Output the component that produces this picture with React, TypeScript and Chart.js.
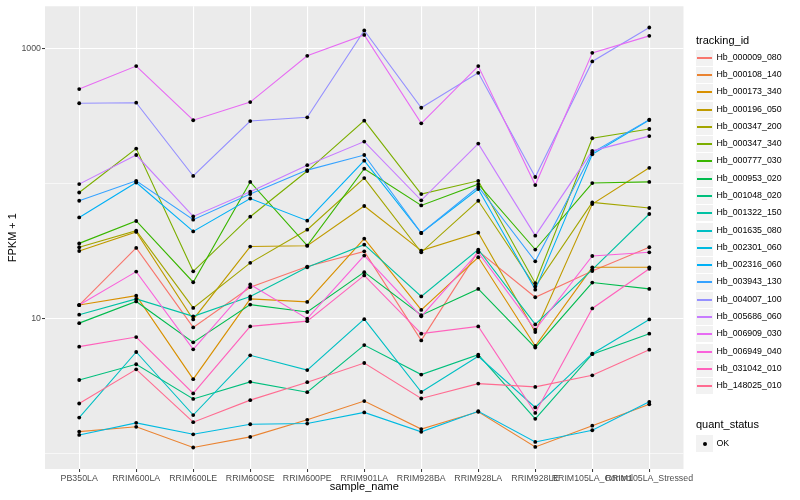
import React, { useEffect, useRef } from "react";
import { Chart, registerables } from "chart.js";

Chart.register(...registerables);

const FONT = '"Liberation Sans", Arial, Helvetica, sans-serif';

const categories = [
  "PB350LA", "RRIM600LA", "RRIM600LE", "RRIM600SE", "RRIM600PE", "RRIM901LA",
  "RRIM928BA", "RRIM928LA", "RRIM928LE", "RRIM105LA_Control", "RRIM105LA_Stressed",
];

const trackingIds = [
  "Hb_000009_080", "Hb_000108_140", "Hb_000173_340", "Hb_000196_050", "Hb_000347_200",
  "Hb_000347_340", "Hb_000777_030", "Hb_000953_020", "Hb_001048_020", "Hb_001322_150",
  "Hb_001635_080", "Hb_002301_060", "Hb_002316_060", "Hb_003943_130", "Hb_004007_100",
  "Hb_005686_060", "Hb_006909_030", "Hb_006949_040", "Hb_031042_010", "Hb_148025_010",
];

const seriesColors = [
  "#F8766D", "#EA8331", "#D89000", "#C09B00", "#A3A500", "#7CAE00", "#39B600",
  "#00BB4E", "#00BF7D", "#00C1A3", "#00BFC4", "#00BAE0", "#00B0F6", "#35A2FF",
  "#9590FF", "#C77CFF", "#E76BF3", "#FA62DB", "#FF62BC", "#FF6C91",
];

// FPKM + 1 per sample (same order as categories)
const Hb_000009_080 = [12.6, 33.4, 8.61, 17.1, 24.3, 31.5, 6.9, 31.6, 14.4, 22.5, 33.8];
const Hb_000108_140 = [1.455, 1.58, 1.11, 1.33, 1.78, 2.45, 1.52, 2.04, 1.12, 1.61, 2.32];
const Hb_000173_340 = [12.6, 14.8, 3.56, 14.0, 13.3, 39.1, 11.6, 28.5, 6.27, 24.0, 24.0];
const Hb_000196_050 = [31.7, 43.9, 9.86, 34.2, 34.7, 68.3, 31.9, 43.3, 7.95, 70.6, 131];
const Hb_000347_200 = [33.8, 44.8, 12.0, 25.9, 45.6, 110, 31.0, 74.7, 17.3, 72.6, 66.0];
const Hb_000347_340 = [86.0, 182, 22.4, 56.9, 124, 293, 83.7, 105, 18.3, 217, 254];
const Hb_000777_030 = [36.1, 52.9, 18.6, 103, 34.7, 129, 69.0, 99.2, 32.5, 101, 103];
const Hb_000953_020 = [9.26, 13.4, 6.67, 12.7, 11.2, 22.1, 10.6, 16.6, 6.1, 18.5, 16.6];
const Hb_001048_020 = [3.51, 4.59, 2.54, 3.4, 2.85, 6.37, 3.85, 5.41, 1.81, 5.45, 7.74];
const Hb_001322_150 = [10.7, 14.0, 10.4, 14.6, 24.0, 35.3, 14.6, 32.5, 9.06, 23.1, 59.6];
const Hb_001635_080 = [1.85, 5.66, 1.93, 5.35, 4.16, 9.91, 2.86, 5.26, 2.2, 5.5, 9.86];
const Hb_002301_060 = [1.375, 1.69, 1.39, 1.65, 1.67, 2.02, 1.45, 2.06, 1.22, 1.49, 2.42];
const Hb_002316_060 = [56.2, 102, 44.3, 77.6, 53.2, 148, 43.1, 91.2, 16.4, 165, 296];
const Hb_003943_130 = [74.7, 105, 54.1, 83.7, 126, 163, 43.1, 94.8, 26.6, 170, 298];
const Hb_004007_100 = [394, 398, 114, 291, 310, 1363, 365, 662, 112, 804, 1435];
const Hb_005686_060 = [99.2, 163, 57.2, 87.1, 137, 205, 75.3, 198, 41.2, 175, 225];
const Hb_006909_030 = [502, 743, 295, 402, 885, 1265, 280, 743, 97.6, 931, 1244];
const Hb_006949_040 = [12.6, 22.3, 5.92, 17.9, 10.0, 29.3, 10.4, 31.0, 8.28, 29.1, 31.0];
const Hb_031042_010 = [6.2, 7.3, 2.79, 8.76, 9.58, 20.9, 7.74, 8.76, 2.0, 11.9, 23.4];
const Hb_148025_010 = [2.35, 4.21, 1.71, 2.49, 3.38, 4.69, 2.56, 3.3, 3.12, 3.8, 5.89];

const seriesValues = [
  Hb_000009_080, Hb_000108_140, Hb_000173_340, Hb_000196_050, Hb_000347_200,
  Hb_000347_340, Hb_000777_030, Hb_000953_020, Hb_001048_020, Hb_001322_150,
  Hb_001635_080, Hb_002301_060, Hb_002316_060, Hb_003943_130, Hb_004007_100,
  Hb_005686_060, Hb_006909_030, Hb_006949_040, Hb_031042_010, Hb_148025_010,
];

const yGridValues = [1, 10, 100, 1000];
const yLabelValues = [10, 1000];

const panelBackground = {
  id: "panelBackground",
  beforeDraw(chart: any) {
    const { ctx, chartArea: a } = chart;
    ctx.save();
    ctx.fillStyle = "#EBEBEB";
    ctx.fillRect(a.left, a.top, a.right - a.left, a.bottom - a.top);
    ctx.restore();
  },
};

function Legend() {
  const keyH = 17.28;
  const firstCenter = 57.3;
  return (
    <>
      <div style={{ position: "absolute", left: 696, top: 34, fontSize: 11, lineHeight: "13px", color: "#000", whiteSpace: "nowrap" }}>
        tracking_id
      </div>
      {trackingIds.map((id, i) => {
        const center = firstCenter + i * keyH;
        const top = Math.round(center - 8.5);
        return (
          <React.Fragment key={id}>
            <div style={{ position: "absolute", left: 696, top, width: 17, height: 17, background: "#F2F2F2", borderTop: "1px solid #FFFFFF", boxSizing: "border-box" }}>
              <div style={{ position: "absolute", left: 1, width: 15, top: 7, height: 1.5, background: seriesColors[i] }} />
            </div>
            <div style={{ position: "absolute", left: 716.5, top, height: 17, lineHeight: "17px", fontSize: 8.8, color: "#000", whiteSpace: "nowrap" }}>
              {id}
            </div>
          </React.Fragment>
        );
      })}
      <div style={{ position: "absolute", left: 696, top: 417.5, fontSize: 11, lineHeight: "13px", color: "#000", whiteSpace: "nowrap" }}>
        quant_status
      </div>
      <div style={{ position: "absolute", left: 696, top: 435, width: 17, height: 17, background: "#F2F2F2" }}>
        <div style={{ position: "absolute", left: 6.5, top: 6.5, width: 4, height: 4, borderRadius: 2, background: "#000" }} />
      </div>
      <div style={{ position: "absolute", left: 716.5, top: 435, height: 17, lineHeight: "17px", fontSize: 8.8, color: "#000" }}>
        OK
      </div>
    </>
  );
}

export default function App() {
  const canvasRef = useRef<HTMLCanvasElement>(null);

  useEffect(() => {
    if (!canvasRef.current) return;
    const lineSets = seriesValues.map((vals, i) => ({
      type: "line" as const,
      label: trackingIds[i],
      data: vals.map((v, j) => ({ x: j, y: v })),
      borderColor: seriesColors[i],
      backgroundColor: seriesColors[i],
      borderWidth: 1.1,
      pointRadius: 0,
      fill: false,
      tension: 0,
      order: seriesValues.length - i + 1,
    }));
    const pointSet = {
      type: "line" as const,
      label: "OK",
      data: seriesValues.flatMap((vals) => vals.map((v, j) => ({ x: j, y: v }))),
      showLine: false,
      pointRadius: 1.9,
      pointBackgroundColor: "#000000",
      pointBorderWidth: 0,
      borderColor: "#000000",
      order: 0,
    };

    const chart = new Chart(canvasRef.current, {
      type: "line",
      data: { datasets: [...lineSets, pointSet] as any },
      plugins: [panelBackground],
      options: {
        animation: false,
        responsive: false,
        events: [],
        layout: { padding: { left: 0, right: 116.5, top: 5, bottom: 0 } },
        plugins: { legend: { display: false }, tooltip: { enabled: false } },
        scales: {
          x: {
            type: "linear",
            min: -0.6,
            max: 10.6,
            afterBuildTicks: (scale: any) => {
              scale.ticks = categories.map((_, i) => ({ value: i }));
            },
            afterFit: (scale: any) => {
              scale.height = 31;
            },
            ticks: {
              autoSkip: false,
              maxRotation: 0,
              minRotation: 0,
              padding: 1,
              color: "#4D4D4D",
              font: { family: FONT, size: 8.8 },
              callback: (value: any) => categories[value as number] ?? "",
            },
            grid: {
              color: "#FFFFFF",
              lineWidth: 1.1,
              tickColor: "#333333",
              tickLength: 3,
              tickWidth: 1,
            },
            border: { display: false },
            title: {
              display: true,
              text: "sample_name",
              color: "#000000",
              font: { family: FONT, size: 11 },
              padding: { top: 0, bottom: 6 },
            },
          },
          y: {
            type: "logarithmic",
            min: 0.769,
            max: 2061,
            afterBuildTicks: (scale: any) => {
              scale.ticks = yGridValues.map((v) => ({ value: v }));
            },
            afterFit: (scale: any) => {
              scale.width = 45;
            },
            ticks: {
              autoSkip: false,
              padding: 1,
              color: "#4D4D4D",
              font: { family: FONT, size: 8.8 },
              callback: (value: any) => (yLabelValues.includes(value as number) ? String(value) : ""),
            },
            grid: {
              color: "#FFFFFF",
              lineWidth: (ctx: any) => (yLabelValues.includes(ctx.tick?.value) ? 1.1 : 0.6),
              tickColor: (ctx: any) => (yLabelValues.includes(ctx.tick?.value) ? "#333333" : "rgba(0,0,0,0)"),
              tickLength: 3,
              tickWidth: 1,
            },
            border: { display: false },
            title: {
              display: true,
              text: "FPKM + 1",
              color: "#000000",
              font: { family: FONT, size: 11 },
              padding: { top: 6, bottom: 0 },
            },
          },
        },
      } as any,
    });
    return () => chart.destroy();
  }, []);

  return (
    <div style={{ position: "absolute", left: 0, top: 0, width: 800, height: 500, background: "#FFFFFF", fontFamily: FONT, overflow: "hidden" }}>
      <canvas ref={canvasRef} width={800} height={500} style={{ position: "absolute", left: 0, top: 0, width: 800, height: 500 }} />
      <Legend />
    </div>
  );
}
